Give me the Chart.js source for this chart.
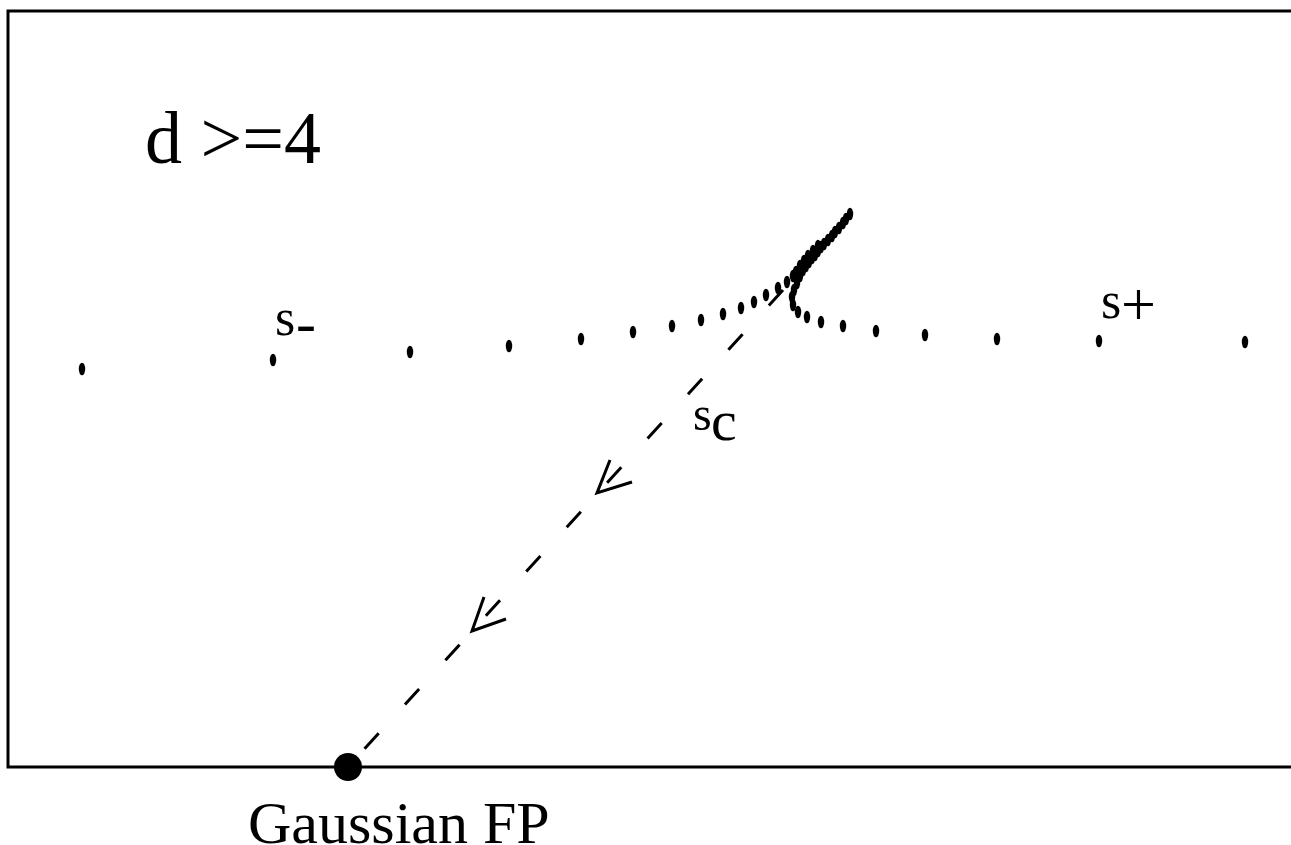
<!DOCTYPE html>
<html>
<head>
<meta charset="utf-8">
<title>d >= 4 flow</title>
<script src="https://cdn.jsdelivr.net/npm/chart.js"></script>
<style>
  body { margin: 0; background: #ffffff; }
  .chart-container { position: relative; width: 1291px; height: 845px; }
</style>
</head>
<body>
<div class="chart-container">
  <canvas id="chart"></canvas>
</div>
<script>
// flow points coming in from the left (s-), running on up alongside the branch
const leftFlowX = [74, 265, 402, 501, 573, 625, 664, 693, 715, 733, 746, 758, 770, 779, 785, 788, 792, 796, 800, 805, 810];
const leftFlowY = [398, 407, 415, 421, 428, 435, 441, 447, 453, 459, 465, 472, 479, 485, 491, 495, 501, 506, 511, 516, 521];

// flow points coming in from the right (s+), curling near the critical point
const rightFlowX = [1237, 1091, 989, 917, 868, 835, 813, 799, 790, 785, 784, 786, 789];
const rightFlowY = [425, 426, 428, 432, 436, 441, 445, 450, 455, 462, 470, 477, 484];

// shared branch leaving upwards
const upFlowX = [792, 795, 798, 801, 804, 807, 810, 813, 816, 820, 824, 827, 831, 835, 838, 842];
const upFlowY = [491, 497, 501, 505, 509, 512, 516, 520, 523, 527, 531, 535, 539, 544, 548, 553];

// critical line sc towards the Gaussian fixed point
const scLineX = [775, 340];
const scLineY = [477, 0];

const arrow1X = [602, 589, 624];
const arrow1Y = [307, 274, 285];
const arrow2X = [476, 464, 498];
const arrow2Y = [170, 136, 148];

const gaussX = [340];
const gaussY = [0];

const labels = [
  { text: 'd >=4', x: 137, y: 604, size: 74 },
  { text: 's', x: 267, y: 432, size: 52 },
  { text: '-', x: 288, y: 424, size: 60 },
  { text: 's', x: 1093, y: 449, size: 52 },
  { text: '+', x: 1113, y: 442, size: 62 },
  { text: 's', x: 685, y: 337, size: 48 },
  { text: 'c', x: 703, y: 327, size: 58 },
  { text: 'Gaussian FP', x: 240, y: -76, size: 60 }
];

function toPoints(xs, ys) {
  return xs.map((x, i) => ({ x: x, y: ys[i] }));
}

// small upright ellipse used for the flow dots
const dot = document.createElement('canvas');
dot.width = 8;
dot.height = 14;
const dctx = dot.getContext('2d');
dctx.fillStyle = '#000';
dctx.beginPath();
dctx.ellipse(4, 7, 3.2, 6.3, 0, 0, Math.PI * 2);
dctx.fill();

const flowDots = {
  showLine: false,
  pointStyle: dot,
  pointRadius: 7,
  clip: false
};

const solidLine = {
  showLine: true,
  borderColor: '#000',
  borderWidth: 3,
  pointRadius: 0,
  fill: false,
  clip: false
};

// open frame: top, left and bottom edges of the plot area
const framePlugin = {
  id: 'frame',
  beforeDatasetsDraw(chart) {
    const ctx = chart.ctx;
    const a = chart.chartArea;
    ctx.save();
    ctx.strokeStyle = '#000';
    ctx.lineWidth = 3;
    ctx.beginPath();
    ctx.moveTo(chart.width, a.top);
    ctx.lineTo(a.left, a.top);
    ctx.lineTo(a.left, a.bottom);
    ctx.lineTo(chart.width, a.bottom);
    ctx.stroke();
    ctx.restore();
  }
};

const labelPlugin = {
  id: 'labels',
  afterDraw(chart) {
    const ctx = chart.ctx;
    const xs = chart.scales.x;
    const ys = chart.scales.y;
    ctx.save();
    ctx.fillStyle = '#000';
    ctx.textAlign = 'left';
    ctx.textBaseline = 'alphabetic';
    labels.forEach(l => {
      ctx.font = l.size + 'px "Liberation Serif", "Times New Roman", serif';
      ctx.fillText(l.text, xs.getPixelForValue(l.x), ys.getPixelForValue(l.y));
    });
    ctx.restore();
  }
};

new Chart(document.getElementById('chart'), {
  type: 'scatter',
  data: {
    datasets: [
      Object.assign({ data: toPoints(leftFlowX, leftFlowY) }, flowDots),
      Object.assign({ data: toPoints(rightFlowX, rightFlowY) }, flowDots),
      Object.assign({ data: toPoints(upFlowX, upFlowY) }, flowDots),
      Object.assign({ data: toPoints(scLineX, scLineY), borderDash: [21, 39] }, solidLine),
      Object.assign({ data: toPoints(arrow1X, arrow1Y) }, solidLine),
      Object.assign({ data: toPoints(arrow2X, arrow2Y) }, solidLine),
      {
        data: toPoints(gaussX, gaussY),
        pointRadius: 14,
        pointBackgroundColor: '#000',
        pointBorderColor: '#000',
        pointBorderWidth: 0,
        clip: false
      }
    ]
  },
  options: {
    responsive: true,
    maintainAspectRatio: false,
    animation: false,
    layout: { autoPadding: false, padding: { left: 8, top: 11, right: 8, bottom: 78 } },
    plugins: {
      legend: { display: false },
      tooltip: { enabled: false }
    },
    scales: {
      x: { type: 'linear', display: false, min: 0, max: 1275 },
      y: { type: 'linear', display: false, min: 0, max: 756 }
    }
  },
  plugins: [framePlugin, labelPlugin]
});
</script>
</body>
</html>
